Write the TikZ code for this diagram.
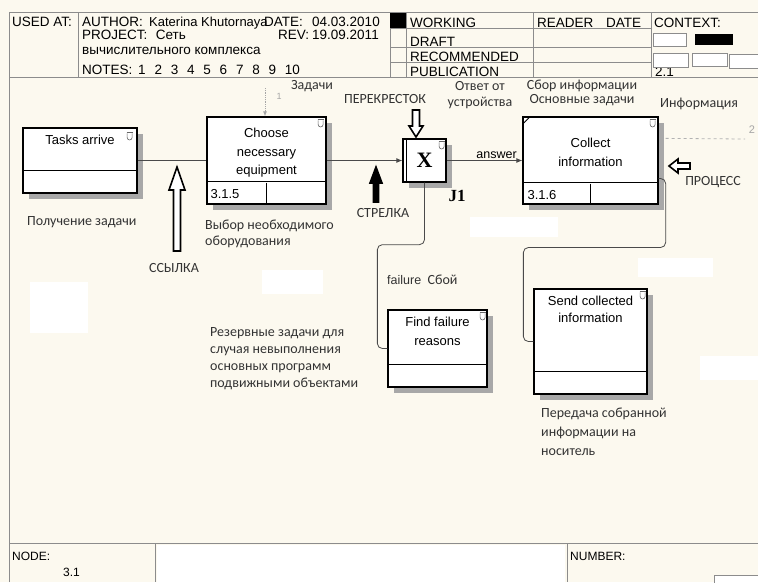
\documentclass[tikz,border=0pt]{standalone}
\usepackage{fontspec}
\setmainfont{Liberation Sans}
\newfontfamily\notefont{Carlito}
\newfontfamily\serifbold{Liberation Serif}
\usetikzlibrary{arrows.meta,positioning,shadows,calc}

\definecolor{paper}{HTML}{FCF9EF}
\definecolor{rulegray}{HTML}{8C8C8C}
\definecolor{wirecol}{HTML}{4A4A4A}
\definecolor{shade}{HTML}{A8A8A8}
\definecolor{notegray}{HTML}{333333}

\tikzset{
  frame/.style={draw=rulegray, line width=0.9pt},
  head/.style={font=\fontsize{13.5}{15}\selectfont, anchor=base west, inner sep=0pt},
  actbox/.style={draw, line width=1.3pt, fill=white, inner sep=0pt,
    drop shadow={shadow xshift=6pt, shadow yshift=-6pt, fill=shade, opacity=1}},
  boxline/.style={line width=1.3pt},
  boxtext/.style={font=\fontsize{13}{18.5}\selectfont, align=center, inner sep=0pt, anchor=north},
  note/.style={font=\notefont\fontsize{14}{17}\selectfont, text=notegray, inner sep=0pt},
  wire/.style={draw=wirecol, line width=0.8pt, rounded corners=5pt},
  fatarrow/.style={draw, line width=1.6pt, fill=white, line join=miter},
  whiteout/.style={fill=white, draw=none},
  notch/.pic={
    \draw[line width=0.6pt, draw=black!60] (-2.5,1) -- (-2.5,5)
      .. controls (-2.5,8.5) and (2.5,8.5) .. (2.5,5) -- (2.5,1);
    \draw[line width=0.6pt, draw=black!60] (-3,0) -- (3,0);
  }
}

\begin{document}
\begin{tikzpicture}[x=1pt,y=-1pt,>={Latex[length=6pt,width=5pt]}]
  \fill[paper] (0,0) rectangle (758,582);
  \useasboundingbox (0,0) rectangle (758,582);

  % patches of white
  \fill[whiteout] (30,282) rectangle (88,333);
  \fill[whiteout] (262,270) rectangle (323,294);
  \fill[whiteout] (470,217) rectangle (558,237);
  \fill[whiteout] (638,258) rectangle (713,277);
  \fill[whiteout] (700,356) rectangle (758,380);

  % header
  \draw[frame] (9,582) -- (9,12) -- (758,12);
  \draw[frame] (9,77) -- (758,77);
  \foreach \xv in {78,390,406,533,651}
    \draw[frame] (\xv,12) -- (\xv,77);
  \foreach \yv in {28,47,62}
    \draw[frame] (390,\yv) -- (651,\yv);
  \fill (390,13) rectangle (406,28);

  \node[head] (hdused) at (12,26) {USED AT:};
  \node[head] (hdauthor) at (82,26) {AUTHOR:};
  \node[head, font=\fontsize{13}{15}\selectfont] (hdname) at (149,26) {Katerina Khutornaya};
  \node[head] (hddate) at (264,26) {DATE:};
  \node[head] (hddatev) at (312,26) {04.03.2010};
  \node[head] (hdproject) at (82,39) {PROJECT:};
  \node[head] (hdprojv) at ([xshift=8pt]hdproject.base east) {Сеть};
  \node[head] (hdrev) at (278,39) {REV:};
  \node[head] (hdrevv) at (312,39) {19.09.2011};
  \node[head] (hdprojw) at (82,54) {вычислительного комплекса};
  \node[head] (hdnotes) at (82,74) {NOTES:};
  \foreach \n [count=\i from 0] in {1,...,10}
    \node[head] (hdnote\n) at (138+16.3*\i,74) {\n};

  \node[head] (working) at (410,27) {WORKING};
  \node[head] (draft) at (410,46) {DRAFT};
  \node[head] (recommended) at (410,61) {RECOMMENDED};
  \node[head] (publication) at (410,76) {PUBLICATION};
  \node[head] (reader) at (537,27) {READER};
  \node[head] (readdate) at (606,27) {DATE};
  \node[head] (context) at (654,27) {CONTEXT:};
  \node[head] (ctxnum) at (655,76) {2.1};
  \draw[frame, fill=white] (653,33) rectangle (686,46);
  \fill (695,34) rectangle (733,45);
  \draw[frame, fill=white] (653,53) rectangle (688,67);
  \draw[frame, fill=white] (692,53) rectangle (727,66);
  \draw[frame, fill=white] (729,54) rectangle (758,68);

  % footer
  \draw[frame] (9,543) -- (758,543);
  \fill[whiteout] (157,545) rectangle (565,582);
  \draw[frame] (155,543) -- (155,582);
  \draw[frame] (567,543) -- (567,582);
  \draw[frame, fill=white] (714,575) rectangle (758,590);
  \node[head, font=\fontsize{12}{14}\selectfont] (ftnode) at (12,560) {NODE:};
  \node[head, font=\fontsize{12}{14}\selectfont] (ftnodev) at (63,576) {3.1};
  \node[head, font=\fontsize{12}{14}\selectfont] (ftnumber) at (570,560) {NUMBER:};

  % activity boxes
  \node[actbox, minimum width=114pt, minimum height=65pt] (tasks) at (80,160.5) {};
  \draw[boxline] ([yshift=-43pt]tasks.north west) -- ([yshift=-43pt]tasks.north east);
  \node[boxtext] (taskslbl) at ([yshift=-8pt]tasks.north) {Tasks arrive};
  \pic at ([xshift=-8pt,yshift=-5pt]tasks.north east) {notch};

  \node[actbox, minimum width=119pt, minimum height=87pt] (choose) at (266.5,160.5) {};
  \draw[boxline] ([yshift=-65pt]choose.north west) -- ([yshift=-65pt]choose.north east);
  \draw[boxline] ([xshift=60pt,yshift=22pt]choose.south west) -- ([xshift=60pt]choose.south west);
  \node[boxtext] (chooselbl) at ([yshift=-12pt]choose.north) {Choose\\necessary\\equipment};
  \node[boxtext, anchor=west] (choosenum) at ([xshift=4pt,yshift=11pt]choose.south west) {3.1.5};
  \pic at ([xshift=-6pt,yshift=-3pt]choose.north east) {notch};

  \node[actbox, minimum size=43pt, font=\serifbold\bfseries\fontsize{22}{22}\selectfont] (xbox) at (424.5,160.5) {X};
  \draw[line width=0.8pt] ([xshift=4pt]xbox.north west) -- ([xshift=4pt]xbox.south west);
  \pic at ([xshift=-5pt,yshift=-3pt]xbox.north east) {notch};
  \node[font=\serifbold\bfseries\fontsize{17}{17}\selectfont, inner sep=0pt] (jname) at (457,196) {J1};

  \node[actbox, minimum width=135pt, minimum height=87pt] (collect) at (590.5,160.5) {};
  \draw[boxline] ([yshift=-66pt]collect.north west) -- ([yshift=-66pt]collect.north east);
  \draw[boxline] ([xshift=68pt,yshift=21pt]collect.south west) -- ([xshift=68pt]collect.south west);
  \node[boxtext] (collectlbl) at ([yshift=-22pt]collect.north) {Collect\\information};
  \node[boxtext, anchor=west] (collectnum) at ([xshift=5pt,yshift=10pt]collect.south west) {3.1.6};
  \draw[line width=0.8pt] ([xshift=1pt,yshift=-7pt]collect.north west) -- ([xshift=7pt,yshift=-1pt]collect.north west);
  \pic at ([xshift=-6pt,yshift=-3pt]collect.north east) {notch};

  \node[actbox, minimum width=99pt, minimum height=77pt] (failbox) at (437.5,348.5) {};
  \draw[boxline] ([yshift=-55pt]failbox.north west) -- ([yshift=-55pt]failbox.north east);
  \node[boxtext] (faillbl) at ([yshift=-8pt]failbox.north) {Find failure\\reasons};
  \pic at ([xshift=-5pt,yshift=-3pt]failbox.north east) {notch};

  \node[actbox, minimum width=113pt, minimum height=105pt] (sendbox) at (590.5,341.5) {};
  \draw[boxline] ([yshift=-83pt]sendbox.north west) -- ([yshift=-83pt]sendbox.north east);
  \node[boxtext, font=\fontsize{13}{17}\selectfont] (sendlbl) at ([yshift=-8pt]sendbox.north) {Send collected\\information};
  \pic at ([xshift=-5pt,yshift=-3pt]sendbox.north east) {notch};

  % connectors
  \draw[wire] (tasks.east) -- (choose.west);
  \draw[wire,->] (choose.east) -- (xbox.west);
  \draw[wire,->] (xbox.east) -- node[pos=0.66, above=1pt, inner sep=0pt, font=\fontsize{12.5}{14}\selectfont] (answer) {answer} (collect.west);
  \coordinate (taskin) at (265,88);
  \draw[wire, draw=black!35, densely dotted, -{Latex[length=5pt,width=4pt]}] (taskin) -- (taskin |- choose.north);
  \node[font=\fontsize{9}{10}\selectfont, text=black!35] (taskinnum) at (279,96) {1};
  \coordinate (infoend) at (745,139);
  \draw[wire, draw=black!30, dashed] ([xshift=7pt,yshift=-22pt]collect.north east) -- (infoend);
  \node[font=\fontsize{11}{12}\selectfont, text=black!35] (infonum) at (752,130) {2};
  \draw[wire] (xbox.south) -- ++(0,62) -| ($(failbox.west)+(-10,0)$) -- (failbox.west);
  \draw[wire] ([yshift=-18pt]collect.east) -- ++(7,0) -- ++(0,69) -| ($(sendbox.west)+(-10,0)$) -- (sendbox.west);

  % fat arrows
  \draw[fatarrow] (177,167) -- (185,190) -- (180.5,190) -- (180.5,251) -- (173.5,251) -- (173.5,190) -- (169,190) -- cycle;
  \draw[fatarrow, fill=black] (376,167) -- (382,183) -- (378.5,183) -- (378.5,202) -- (373.5,202) -- (373.5,183) -- (370,183) -- cycle;
  \draw[fatarrow] (416,137) -- (423,126) -- (419.5,126) -- (419.5,110) -- (412.5,110) -- (412.5,126) -- (409,126) -- cycle;
  \draw[fatarrow] (669,166) -- (678,159) -- (678,163) -- (690,163) -- (690,169) -- (678,169) -- (678,173) -- cycle;

  % notes
  \node[note] (lbltasks) at (312,86) {Задачи};
  \node[note] (lblcross) at (385,99) {ПЕРЕКРЕСТОК};
  \node[note, align=center, font=\notefont\fontsize{14}{16}\selectfont] (lblanswer) at (480,95) {Ответ от\\устройства};
  \node[note, align=center, font=\notefont\fontsize{14}{13.5}\selectfont] (lblcollect) at (582,93) {Сбор информации\\Основные задачи};
  \node[note, anchor=west] (lblinfo) at (660,104) {Информация};
  \node[note] (lblprocess) at (713,182) {ПРОЦЕСС};
  \node[note, anchor=west] (lblget) at (27,222) {Получение задачи};
  \node[note] (lbllink) at (174,268) {ССЫЛКА};
  \node[note, anchor=north west, align=left, font=\notefont\fontsize{14}{16}\selectfont] (lblchoose) at (205,220) {Выбор необходимого\\оборудования};
  \node[note] (lblarrow) at (383,213) {СТРЕЛКА};
  \node[note, anchor=west] (lblfail) at (387,280) {{\rmfamily\fontsize{12.5}{14}\selectfont failure}~~Сбой};
  \node[note, anchor=north west, align=left] (lblreserve) at (210,327) {Резервные задачи для\\случая невыполнения\\основных программ\\подвижными объектами};
  \node[note, anchor=north west, align=left, font=\notefont\fontsize{14}{19}\selectfont] (lblsend) at (541,408) {Передача собранной\\информации на\\носитель};
\end{tikzpicture}
\end{document}
